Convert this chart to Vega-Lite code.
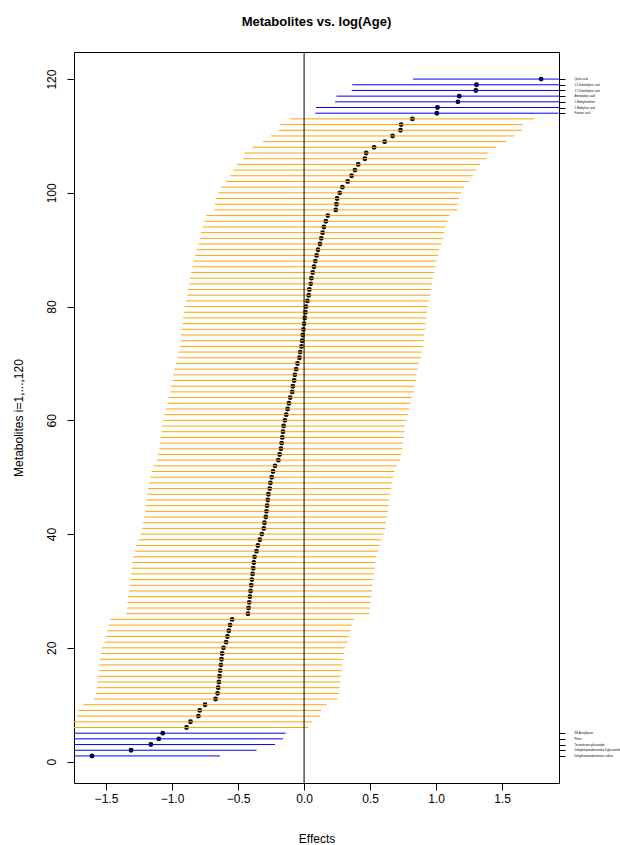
{
  "$schema": "https://vega.github.io/schema/vega-lite/v6.json",
  "width": 485,
  "height": 731,
  "autosize": {"type": "none"},
  "padding": {"left": 74, "top": 52, "right": 61, "bottom": 62},
  "background": "white",
  "title": {"text": "Metabolites vs. log(Age)", "fontSize": 13, "fontWeight": "bold", "font": "Liberation Sans", "color": "black", "anchor": "middle", "offset": 23},
  "config": {
    "view": {"stroke": "black", "strokeWidth": 1},
    "font": "Liberation Sans",
    "axis": {"grid": false, "domain": false, "tickColor": "black", "labelColor": "black", "titleColor": "black", "labelFont": "Liberation Sans", "titleFont": "Liberation Sans", "titleFontWeight": "normal", "labelFontSize": 12, "titleFontSize": 12, "tickSize": 7}
  },
  "data": {"values": [
    {"i":1,"est":-1.606,"lo":-2.576,"hi":-0.636,"sig":"yes"},
    {"i":2,"est":-1.31,"lo":-2.26,"hi":-0.36,"sig":"yes"},
    {"i":3,"est":-1.16,"lo":-2.10,"hi":-0.22,"sig":"yes"},
    {"i":4,"est":-1.10,"lo":-2.04,"hi":-0.16,"sig":"yes"},
    {"i":5,"est":-1.07,"lo":-2.00,"hi":-0.14,"sig":"yes"},
    {"i":6,"est":-0.89,"lo":-1.81,"hi":0.03,"sig":"no"},
    {"i":7,"est":-0.86,"lo":-1.78,"hi":0.06,"sig":"no"},
    {"i":8,"est":-0.80,"lo":-1.72,"hi":0.12,"sig":"no"},
    {"i":9,"est":-0.79,"lo":-1.71,"hi":0.13,"sig":"no"},
    {"i":10,"est":-0.75,"lo":-1.67,"hi":0.17,"sig":"no"},
    {"i":11,"est":-0.67,"lo":-1.59,"hi":0.25,"sig":"no"},
    {"i":12,"est":-0.655,"lo":-1.575,"hi":0.265,"sig":"no"},
    {"i":13,"est":-0.65,"lo":-1.57,"hi":0.27,"sig":"no"},
    {"i":14,"est":-0.645,"lo":-1.565,"hi":0.275,"sig":"no"},
    {"i":15,"est":-0.64,"lo":-1.56,"hi":0.28,"sig":"no"},
    {"i":16,"est":-0.635,"lo":-1.555,"hi":0.285,"sig":"no"},
    {"i":17,"est":-0.63,"lo":-1.55,"hi":0.29,"sig":"no"},
    {"i":18,"est":-0.625,"lo":-1.545,"hi":0.295,"sig":"no"},
    {"i":19,"est":-0.62,"lo":-1.54,"hi":0.30,"sig":"no"},
    {"i":20,"est":-0.61,"lo":-1.53,"hi":0.31,"sig":"no"},
    {"i":21,"est":-0.59,"lo":-1.51,"hi":0.33,"sig":"no"},
    {"i":22,"est":-0.58,"lo":-1.50,"hi":0.34,"sig":"no"},
    {"i":23,"est":-0.57,"lo":-1.49,"hi":0.35,"sig":"no"},
    {"i":24,"est":-0.56,"lo":-1.48,"hi":0.36,"sig":"no"},
    {"i":25,"est":-0.545,"lo":-1.465,"hi":0.375,"sig":"no"},
    {"i":26,"est":-0.425,"lo":-1.345,"hi":0.495,"sig":"no"},
    {"i":27,"est":-0.42,"lo":-1.34,"hi":0.50,"sig":"no"},
    {"i":28,"est":-0.415,"lo":-1.335,"hi":0.505,"sig":"no"},
    {"i":29,"est":-0.41,"lo":-1.33,"hi":0.51,"sig":"no"},
    {"i":30,"est":-0.405,"lo":-1.325,"hi":0.515,"sig":"no"},
    {"i":31,"est":-0.40,"lo":-1.32,"hi":0.52,"sig":"no"},
    {"i":32,"est":-0.395,"lo":-1.315,"hi":0.525,"sig":"no"},
    {"i":33,"est":-0.39,"lo":-1.31,"hi":0.53,"sig":"no"},
    {"i":34,"est":-0.385,"lo":-1.305,"hi":0.535,"sig":"no"},
    {"i":35,"est":-0.38,"lo":-1.30,"hi":0.54,"sig":"no"},
    {"i":36,"est":-0.375,"lo":-1.295,"hi":0.545,"sig":"no"},
    {"i":37,"est":-0.36,"lo":-1.28,"hi":0.56,"sig":"no"},
    {"i":38,"est":-0.35,"lo":-1.27,"hi":0.57,"sig":"no"},
    {"i":39,"est":-0.335,"lo":-1.255,"hi":0.585,"sig":"no"},
    {"i":40,"est":-0.32,"lo":-1.24,"hi":0.60,"sig":"no"},
    {"i":41,"est":-0.305,"lo":-1.225,"hi":0.615,"sig":"no"},
    {"i":42,"est":-0.30,"lo":-1.22,"hi":0.62,"sig":"no"},
    {"i":43,"est":-0.29,"lo":-1.21,"hi":0.63,"sig":"no"},
    {"i":44,"est":-0.285,"lo":-1.205,"hi":0.635,"sig":"no"},
    {"i":45,"est":-0.28,"lo":-1.20,"hi":0.64,"sig":"no"},
    {"i":46,"est":-0.275,"lo":-1.195,"hi":0.645,"sig":"no"},
    {"i":47,"est":-0.27,"lo":-1.19,"hi":0.65,"sig":"no"},
    {"i":48,"est":-0.26,"lo":-1.18,"hi":0.66,"sig":"no"},
    {"i":49,"est":-0.255,"lo":-1.175,"hi":0.665,"sig":"no"},
    {"i":50,"est":-0.245,"lo":-1.165,"hi":0.675,"sig":"no"},
    {"i":51,"est":-0.235,"lo":-1.155,"hi":0.685,"sig":"no"},
    {"i":52,"est":-0.22,"lo":-1.14,"hi":0.70,"sig":"no"},
    {"i":53,"est":-0.195,"lo":-1.115,"hi":0.725,"sig":"no"},
    {"i":54,"est":-0.185,"lo":-1.105,"hi":0.735,"sig":"no"},
    {"i":55,"est":-0.175,"lo":-1.095,"hi":0.745,"sig":"no"},
    {"i":56,"est":-0.17,"lo":-1.09,"hi":0.75,"sig":"no"},
    {"i":57,"est":-0.165,"lo":-1.085,"hi":0.755,"sig":"no"},
    {"i":58,"est":-0.16,"lo":-1.08,"hi":0.76,"sig":"no"},
    {"i":59,"est":-0.155,"lo":-1.075,"hi":0.765,"sig":"no"},
    {"i":60,"est":-0.145,"lo":-1.065,"hi":0.775,"sig":"no"},
    {"i":61,"est":-0.135,"lo":-1.055,"hi":0.785,"sig":"no"},
    {"i":62,"est":-0.125,"lo":-1.045,"hi":0.795,"sig":"no"},
    {"i":63,"est":-0.115,"lo":-1.035,"hi":0.805,"sig":"no"},
    {"i":64,"est":-0.105,"lo":-1.025,"hi":0.815,"sig":"no"},
    {"i":65,"est":-0.09,"lo":-1.01,"hi":0.83,"sig":"no"},
    {"i":66,"est":-0.085,"lo":-1.005,"hi":0.835,"sig":"no"},
    {"i":67,"est":-0.075,"lo":-0.995,"hi":0.845,"sig":"no"},
    {"i":68,"est":-0.07,"lo":-0.99,"hi":0.85,"sig":"no"},
    {"i":69,"est":-0.06,"lo":-0.98,"hi":0.86,"sig":"no"},
    {"i":70,"est":-0.05,"lo":-0.97,"hi":0.87,"sig":"no"},
    {"i":71,"est":-0.035,"lo":-0.955,"hi":0.885,"sig":"no"},
    {"i":72,"est":-0.03,"lo":-0.95,"hi":0.89,"sig":"no"},
    {"i":73,"est":-0.02,"lo":-0.94,"hi":0.90,"sig":"no"},
    {"i":74,"est":-0.015,"lo":-0.935,"hi":0.905,"sig":"no"},
    {"i":75,"est":-0.01,"lo":-0.93,"hi":0.91,"sig":"no"},
    {"i":76,"est":-0.005,"lo":-0.925,"hi":0.915,"sig":"no"},
    {"i":77,"est":0.0,"lo":-0.92,"hi":0.92,"sig":"no"},
    {"i":78,"est":0.005,"lo":-0.915,"hi":0.925,"sig":"no"},
    {"i":79,"est":0.01,"lo":-0.91,"hi":0.93,"sig":"no"},
    {"i":80,"est":0.015,"lo":-0.905,"hi":0.935,"sig":"no"},
    {"i":81,"est":0.025,"lo":-0.895,"hi":0.945,"sig":"no"},
    {"i":82,"est":0.035,"lo":-0.885,"hi":0.955,"sig":"no"},
    {"i":83,"est":0.04,"lo":-0.88,"hi":0.96,"sig":"no"},
    {"i":84,"est":0.05,"lo":-0.87,"hi":0.97,"sig":"no"},
    {"i":85,"est":0.055,"lo":-0.865,"hi":0.975,"sig":"no"},
    {"i":86,"est":0.065,"lo":-0.855,"hi":0.985,"sig":"no"},
    {"i":87,"est":0.075,"lo":-0.845,"hi":0.995,"sig":"no"},
    {"i":88,"est":0.085,"lo":-0.835,"hi":1.005,"sig":"no"},
    {"i":89,"est":0.095,"lo":-0.825,"hi":1.015,"sig":"no"},
    {"i":90,"est":0.105,"lo":-0.815,"hi":1.025,"sig":"no"},
    {"i":91,"est":0.12,"lo":-0.80,"hi":1.04,"sig":"no"},
    {"i":92,"est":0.13,"lo":-0.79,"hi":1.05,"sig":"no"},
    {"i":93,"est":0.14,"lo":-0.78,"hi":1.06,"sig":"no"},
    {"i":94,"est":0.15,"lo":-0.77,"hi":1.07,"sig":"no"},
    {"i":95,"est":0.165,"lo":-0.755,"hi":1.085,"sig":"no"},
    {"i":96,"est":0.18,"lo":-0.74,"hi":1.10,"sig":"no"},
    {"i":97,"est":0.24,"lo":-0.68,"hi":1.16,"sig":"no"},
    {"i":98,"est":0.245,"lo":-0.675,"hi":1.165,"sig":"no"},
    {"i":99,"est":0.25,"lo":-0.67,"hi":1.17,"sig":"no"},
    {"i":100,"est":0.27,"lo":-0.65,"hi":1.19,"sig":"no"},
    {"i":101,"est":0.29,"lo":-0.63,"hi":1.21,"sig":"no"},
    {"i":102,"est":0.33,"lo":-0.59,"hi":1.25,"sig":"no"},
    {"i":103,"est":0.36,"lo":-0.56,"hi":1.28,"sig":"no"},
    {"i":104,"est":0.385,"lo":-0.535,"hi":1.305,"sig":"no"},
    {"i":105,"est":0.41,"lo":-0.51,"hi":1.33,"sig":"no"},
    {"i":106,"est":0.46,"lo":-0.46,"hi":1.38,"sig":"no"},
    {"i":107,"est":0.47,"lo":-0.45,"hi":1.39,"sig":"no"},
    {"i":108,"est":0.53,"lo":-0.39,"hi":1.45,"sig":"no"},
    {"i":109,"est":0.61,"lo":-0.31,"hi":1.53,"sig":"no"},
    {"i":110,"est":0.67,"lo":-0.25,"hi":1.59,"sig":"no"},
    {"i":111,"est":0.73,"lo":-0.19,"hi":1.65,"sig":"no"},
    {"i":112,"est":0.735,"lo":-0.185,"hi":1.655,"sig":"no"},
    {"i":113,"est":0.82,"lo":-0.10,"hi":1.74,"sig":"no"},
    {"i":114,"est":1.005,"lo":0.085,"hi":1.925,"sig":"yes"},
    {"i":115,"est":1.01,"lo":0.09,"hi":1.93,"sig":"yes"},
    {"i":116,"est":1.165,"lo":0.235,"hi":2.095,"sig":"yes"},
    {"i":117,"est":1.175,"lo":0.245,"hi":2.105,"sig":"yes"},
    {"i":118,"est":1.30,"lo":0.36,"hi":2.24,"sig":"yes"},
    {"i":119,"est":1.305,"lo":0.365,"hi":2.245,"sig":"yes"},
    {"i":120,"est":1.795,"lo":0.825,"hi":2.765,"sig":"yes"}
  ]},
  "layer": [
    {
      "mark": {"type": "point", "filled": true, "color": "black", "size": 24, "opacity": 1},
      "encoding": {
        "x": {"field": "est", "type": "quantitative", "scale": {"domain": [-1.742, 1.93], "nice": false, "zero": false},
              "axis": {"values": [-1.5, -1, -0.5, 0, 0.5, 1, 1.5], "format": ".1f", "title": "Effects", "labelPadding": 3, "titlePadding": 29, "labelFlush": false}},
        "y": {"field": "i", "type": "quantitative", "scale": {"domain": [-3.76, 124.76], "nice": false, "zero": false},
              "axis": {"orient": "left", "values": [0, 20, 40, 60, 80, 100, 120], "labelAngle": -90, "labelAlign": "center", "labelBaseline": "bottom", "labelPadding": 9, "title": "Metabolites i=1,...,120", "titlePadding": 20, "labelFlush": false}}
      }
    },
    {
      "mark": {"type": "rule", "clip": true, "strokeWidth": 1},
      "encoding": {
        "x": {"field": "lo", "type": "quantitative"},
        "x2": {"field": "hi"},
        "y": {"field": "i", "type": "quantitative",
              "axis": {"orient": "right", "values": [1, 2, 3, 4, 5, 114, 115, 116, 117, 118, 119, 120], "title": null, "tickSize": 6, "labelPadding": 9, "labelFontSize": 2.7, "labelOverlap": false, "labelFlush": false, "labelBound": false, "labelAlign": "left", "labelBaseline": "middle",
                       "labelExpr": "['Dehydroepiandrosterone sulfate','Dehydroepiandrosterone 3-glucuronide','Testosterone glucuronide','Pterin','N6-Acetyllysine','Fumaric acid','1-Methyluric acid','1-Methylxanthine','Aminoadipic acid','1,7-Dimethyluric acid','1,3-Dimethyluric acid','Quinic acid'][indexof([1,2,3,4,5,114,115,116,117,118,119,120], datum.value)]"}},
        "color": {"field": "sig", "type": "nominal", "scale": {"domain": ["no", "yes"], "range": ["orange", "blue"]}, "legend": null}
      }
    },
    {
      "data": {"values": [{"v": 0}]},
      "mark": {"type": "rule", "color": "black", "strokeWidth": 1},
      "encoding": {"x": {"field": "v", "type": "quantitative"}}
    }
  ],
  "resolve": {"axis": {"y": "independent"}}
}
